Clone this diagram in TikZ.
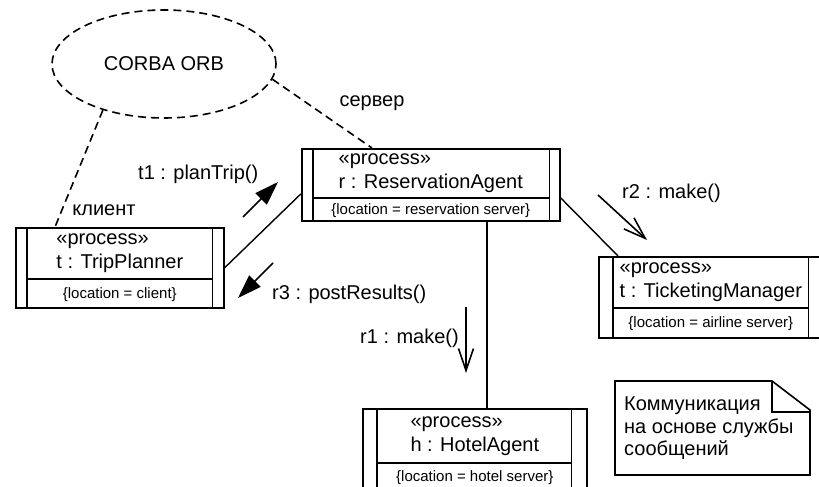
\documentclass[tikz,border=0pt]{standalone}
\usepackage{fontspec}
\setmainfont{Liberation Sans}
\usetikzlibrary{arrows.meta}
\usetikzlibrary{shapes.geometric}
\usetikzlibrary{calc}

\tikzset{
procframe/.style={draw, line width=1.6pt, inner sep=0pt, anchor=north west},
boxline/.style={line width=1.6pt},
link/.style={line width=1.4pt},
dep/.style={line width=1.6pt, dash pattern=on 8pt off 5pt},
proc/.style={align=left, inner sep=0pt, font=\fontsize{20}{24}\selectfont},
loc/.style={inner sep=0pt, font=\fontsize{15}{18}\selectfont},
msg/.style={inner sep=0pt, anchor=west, font=\fontsize{20}{24}\selectfont},
sync/.style={line width=1.6pt, -{Triangle[length=24pt,width=16pt]}},
async/.style={line width=1.6pt, -{Straight Barb[length=22pt,width=15pt]}},
}

\begin{document}
\begin{tikzpicture}[x=1pt, y=-1pt]
\useasboundingbox (0,0) rectangle (819,487);

%orb
\node[dep, draw, ellipse, minimum width=224, minimum height=108, font=\fontsize{20}{24}\selectfont] (orb) at (164,64) {CORBA ORB};

%process boxes
\node[procframe, minimum width=208, minimum height=80] (trip) at (15,227) {};
\draw[boxline] ([xshift=12]trip.north west) -- ([xshift=12]trip.south west);
\draw[boxline] ([xshift=-12]trip.north east) -- ([xshift=-12]trip.south east);
\draw[boxline] ([xshift=12,yshift=-52]trip.north west) -- ([xshift=-12,yshift=-52]trip.north east);
\node[proc] (trip-name) at ([yshift=-26]trip.north) {«process»\\t : TripPlanner};
\node[loc] (trip-loc) at ([yshift=14]trip.south) {\{location = client\}};

\node[procframe, minimum width=258, minimum height=72] (res) at (301,148) {};
\draw[boxline] ([xshift=12]res.north west) -- ([xshift=12]res.south west);
\draw[boxline] ([xshift=-11]res.north east) -- ([xshift=-11]res.south east);
\draw[boxline] ([xshift=12,yshift=-50]res.north west) -- ([xshift=-11,yshift=-50]res.north east);
\node[proc] (res-name) at ([yshift=-25]res.north) {«process»\\r : ReservationAgent};
\node[loc] (res-loc) at ([yshift=11]res.south) {\{location = reservation server\}};

\node[procframe, minimum width=222, minimum height=81] (ticket) at (598,256) {};
\draw[boxline] ([xshift=15]ticket.north west) -- ([xshift=15]ticket.south west);
\draw[boxline] ([xshift=-13]ticket.north east) -- ([xshift=-13]ticket.south east);
\draw[boxline] ([xshift=15,yshift=-52]ticket.north west) -- ([xshift=-13,yshift=-52]ticket.north east);
\node[proc] (ticket-name) at ([xshift=1,yshift=-26]ticket.north) {«process»\\t : TicketingManager};
\node[loc] (ticket-loc) at ([xshift=1,yshift=15]ticket.south) {\{location = airline server\}};

\node[procframe, minimum width=224, minimum height=82] (hotel) at (362,408) {};
\draw[boxline] ([xshift=15]hotel.north west) -- ([xshift=15]hotel.south west);
\draw[boxline] ([xshift=-16]hotel.north east) -- ([xshift=-16]hotel.south east);
\draw[boxline] ([xshift=15,yshift=-55]hotel.north west) -- ([xshift=-16,yshift=-55]hotel.north east);
\node[proc] (hotel-name) at ([yshift=-28]hotel.north) {«process»\\h : HotelAgent};
\node[loc] (hotel-loc) at ([yshift=14]hotel.south) {\{location = hotel server\}};

%links
\draw[link] (trip.east) -- ([yshift=-9]res.west);
\draw[link] ([yshift=-13]res.east) -- ([xshift=20]ticket.north west);
\draw[link] ([xshift=56]res.south) -- ([xshift=12]hotel.north);
\draw[dep] (orb.217) -- ([xshift=40]trip.north west);
\draw[dep] (orb.-8) -- ([xshift=71]res.north west);
\node[msg, anchor=center] (client) at (104,210) {клиент};
\node[msg, anchor=center] (server) at (372,103) {сервер};

%messages
\coordinate (t1a) at (243,217);
\coordinate (t1b) at (278,182);
\coordinate (r3a) at (273,263);
\coordinate (r3b) at (238,298);
\coordinate (r2a) at (598,195);
\coordinate (r2b) at (647,240);
\coordinate (r1a) at (466,307);
\coordinate (r1b) at (466,373);
\draw[sync] (t1a) -- (t1b);
\draw[sync] (r3a) -- (r3b);
\draw[async] (r2a) -- (r2b);
\draw[async] (r1a) -- (r1b);
\node[msg] (t1) at (138,174) {t1 : planTrip()};
\node[msg] (r3) at (272,294) {r3 : postResults()};
\node[msg] (r2) at (622,193) {r2 : make()};
\node[msg] (r1) at (360,338) {r1 : make()};

%note
\draw[boxline] (615,381) -- (772,381) -- (810,410) -- (810,475) -- (615,475) -- cycle;
\draw[boxline] (772,381) -- (772,412) -- (810,412);
\node[proc, anchor=north west, font=\fontsize{20}{22.5}\selectfont] (note) at (624,397) {Коммуникация\\на основе службы\\сообщений};
\end{tikzpicture}
\end{document}
